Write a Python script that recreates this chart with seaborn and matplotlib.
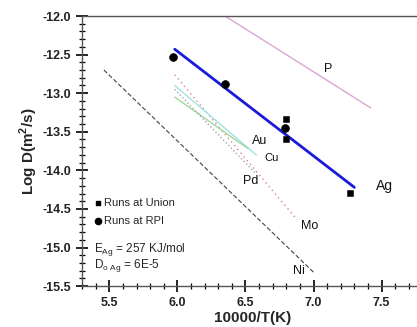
import numpy as np
import pandas as pd
import matplotlib.pyplot as plt
import seaborn as sns

# Measured points
union_x = [6.80, 6.80, 7.27]
union_y = [-13.34, -13.59, -14.29]
rpi_x = [5.97, 6.35, 6.79]
rpi_y = [-12.53, -12.88, -13.45]

# Fitted / literature lines (endpoints)
ag_x, ag_y = [5.98, 7.30], [-12.43, -14.22]
p_x, p_y = [6.35, 7.42], [-12.00, -13.19]
ni_x, ni_y = [5.46, 7.00], [-12.70, -15.32]
mo_x, mo_y = [5.98, 6.88], [-12.76, -14.64]
au_x, au_y = [5.98, 6.52], [-13.05, -13.72]
cu_x, cu_y = [5.98, 6.58], [-12.90, -13.80]
pd_x, pd_y = [5.98, 6.58], [-12.95, -14.05]

sns.set_style("ticks")
plt.rcParams['font.family'] = ['Liberation Sans', 'DejaVu Sans']

fig = plt.figure(figsize=(4.17, 3.27), dpi=100)
ax = fig.add_axes([0.197, 0.125, 0.816, 0.826])

sns.lineplot(x=p_x, y=p_y, ax=ax, color="#dba6d6", lw=1.0)
sns.lineplot(x=ni_x, y=ni_y, ax=ax, color="#444444", lw=0.8, linestyle=(0, (4, 2)))
sns.lineplot(x=mo_x, y=mo_y, ax=ax, color="#e0808f", lw=1.0, linestyle=(0, (1, 2.5)))
sns.lineplot(x=cu_x, y=cu_y, ax=ax, color="#9fe3e3", lw=1.0)
sns.lineplot(x=au_x, y=au_y, ax=ax, color="#9fd89f", lw=1.0)
sns.lineplot(x=pd_x, y=pd_y, ax=ax, color="#9aa6b0", lw=1.0, linestyle=":")
sns.lineplot(x=ag_x, y=ag_y, ax=ax, color="#1a1adb", lw=2.0)

sns.scatterplot(x=union_x, y=union_y, ax=ax, marker="s", s=22, color="black", edgecolor="black", zorder=5)
sns.scatterplot(x=rpi_x, y=rpi_y, ax=ax, marker="o", s=32, color="black", edgecolor="black", zorder=5)

lab = dict(fontsize=9, color="#111111")
ax.text(7.08, -12.72, "P", **lab)
ax.text(7.46, -14.25, "Ag", fontsize=10, color="#111111")
ax.text(6.55, -13.66, "Au", **lab)
ax.text(6.64, -13.88, "Cu", fontsize=8, color="#111111")
ax.text(6.48, -14.18, "Pd", **lab)
ax.text(6.91, -14.76, "Mo", **lab)
ax.text(6.85, -15.34, "Ni", **lab)

# legend-like annotations
ax.scatter([5.415], [-14.42], marker="s", s=12, color="black")
ax.text(5.46, -14.42, "Runs at Union", fontsize=8, va="center")
ax.scatter([5.415], [-14.65], marker="o", s=20, color="black")
ax.text(5.46, -14.65, "Runs at RPI", fontsize=8, va="center")
ax.text(5.39, -15.02, r"E$_{\mathregular{Ag}}$ = 257 KJ/mol", fontsize=8.5, va="center")
ax.text(5.39, -15.23, r"D$_{\mathregular{o\ Ag}}$ = 6E-5", fontsize=8.5, va="center")

ax.set_xlim(5.3, 7.8)
ax.set_ylim(-15.5, -12.0)
ax.set_xticks([5.5, 6.0, 6.5, 7.0, 7.5])
ax.set_yticks(np.arange(-15.5, -11.9, 0.5))
ax.set_xticks(np.arange(5.3, 7.81, 0.1), minor=True)
ax.set_yticks(np.arange(-15.5, -11.99, 0.1), minor=True)
ax.xaxis.set_major_formatter(plt.FormatStrFormatter("%.1f"))
ax.yaxis.set_major_formatter(plt.FormatStrFormatter("%.1f"))
ax.tick_params(which="both", bottom=True, left=True, top=False, right=False)
ax.tick_params(which="major", direction="inout", length=9, width=1.2, labelsize=9, color="black")
ax.tick_params(which="minor", direction="inout", length=5, width=0.9, color="black")
for t in ax.get_xticklabels() + ax.get_yticklabels():
    t.set_fontweight("bold")
    t.set_color("#222222")

for s in ["left", "bottom", "top", "right"]:
    ax.spines[s].set_color("#555555")
    ax.spines[s].set_linewidth(1.0)

ax.set_xlabel("10000/T(K)", fontsize=11, fontweight="bold", labelpad=1)
ax.set_ylabel("Log D(m$^\\mathregular{2}$/s)", fontsize=11, fontweight="bold", labelpad=2)

fig.savefig("out.png", dpi=100)
